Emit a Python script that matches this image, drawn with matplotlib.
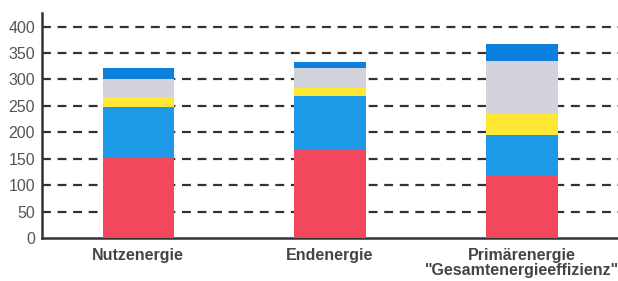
import numpy as np
import matplotlib.pyplot as plt

plt.rcParams['font.family'] = ['Liberation Sans', 'DejaVu Sans']

categories = ['Nutzenergie', 'Endenergie', 'Primärenergie\n"Gesamtenergieeffizienz"']
red = [154, 168, 118]
blue = [94, 101, 77]
yellow = [19, 14, 40]
gray = [33, 39, 100]
darkblue = [21, 12, 32]

series = [red, blue, yellow, gray, darkblue]
colors = ['#F2475C', '#1E9BE8', '#FFE834', '#D2D2DC', '#0B80DC']

fig = plt.figure(figsize=(6.18, 2.81), dpi=100)
ax = fig.add_axes([0.068, 0.153, 0.932, 0.801])

x = np.arange(len(categories))
bottom = np.zeros(len(categories))
for vals, c in zip(series, colors):
    ax.bar(x, vals, width=0.37, bottom=bottom, color=c, zorder=3)
    bottom += np.array(vals)

ax.set_xlim(-0.5, 2.5)
ax.set_ylim(0, 426)
ax.set_yticks(np.arange(0, 401, 50))
ax.set_xticks(x)
ax.set_xticklabels(categories, fontsize=11.5, fontweight='bold', color='#444444', linespacing=1.0)
ax.tick_params(axis='y', length=0, labelsize=11.5, labelcolor='#555555', pad=5)
ax.tick_params(axis='x', length=0, pad=7)

for yv in np.arange(50, 401, 50):
    ax.axhline(yv, color='#333333', lw=1.6, ls=(0, (4, 3)), zorder=1)

for s in ['top', 'right']:
    ax.spines[s].set_visible(False)
ax.spines['left'].set_linewidth(1.8)
ax.spines['bottom'].set_linewidth(1.8)
ax.spines['left'].set_color('#333333')
ax.spines['bottom'].set_color('#333333')

fig.savefig('out.png', dpi=100)
